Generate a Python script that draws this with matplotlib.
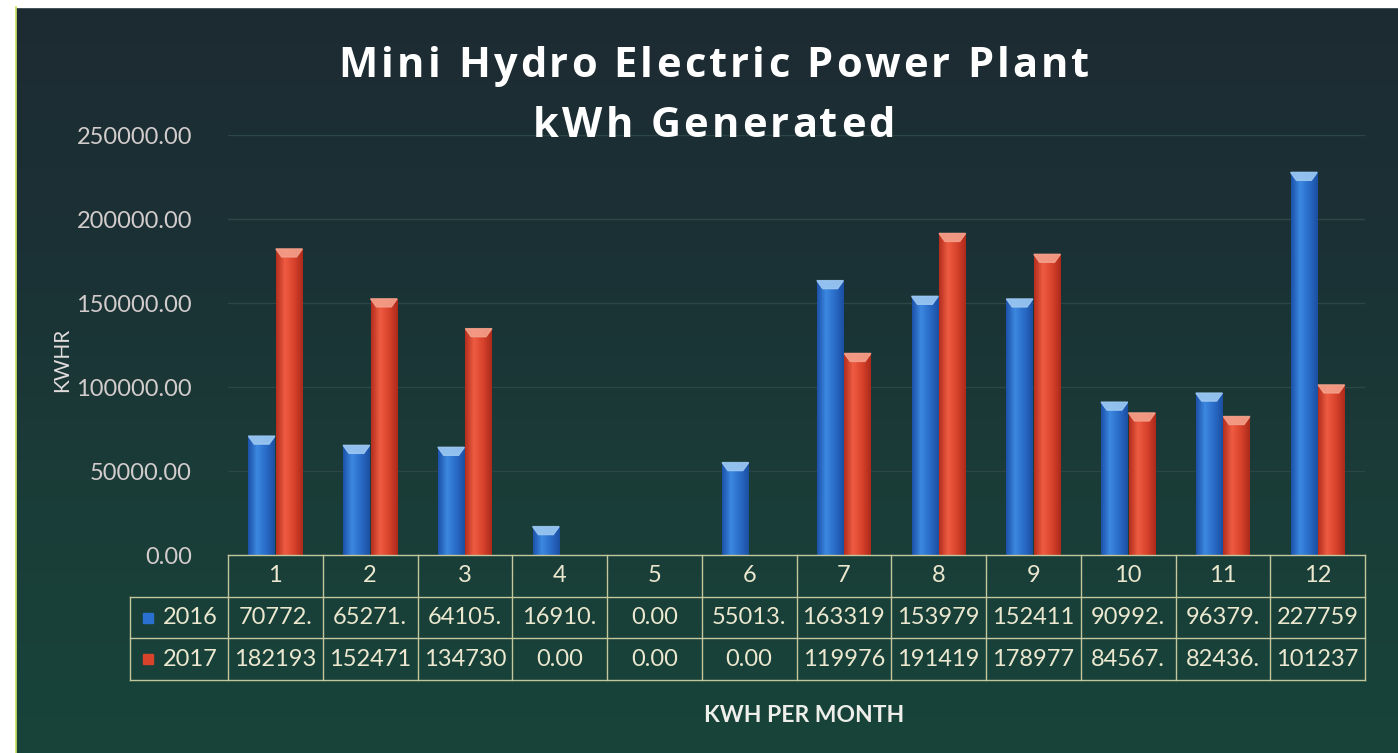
import numpy as np
import matplotlib
matplotlib.use("Agg")
import matplotlib.pyplot as plt
from matplotlib.transforms import blended_transform_factory
from matplotlib.patches import Polygon, Rectangle
from matplotlib.colors import LinearSegmentedColormap
from matplotlib.font_manager import FontProperties

# ---------------- data ----------------
months = ["1", "2", "3", "4", "5", "6", "7", "8", "9", "10", "11", "12"]
series_names = ["2016", "2017"]
kwh_2016 = [70772, 65271, 64105, 16910, 0, 55013, 163319, 153979, 152411, 90992, 96379, 227759]
kwh_2017 = [182193, 152471, 134730, 0, 0, 0, 119976, 191419, 178977, 84567, 82436, 101237]
y_ticks = [0, 50000, 100000, 150000, 200000, 250000]

title_lines = ["Mini Hydro Electric Power Plant", "kWh Generated"]
x_label = "KWH PER MONTH"
y_label = "KWHR"

# ---------------- style ----------------
W, H = 1398, 753
fig = plt.figure(figsize=(W / 100, H / 100), dpi=100)

# background gradient
bg = fig.add_axes([0, 0, 1, 1], zorder=-10)
bg.set_axis_off()
bg_cmap = LinearSegmentedColormap.from_list("bg", ["#1d2b32", "#1b3135", "#1a3d38", "#17443a"])
grad = np.linspace(0, 1, 256).reshape(-1, 1)
bg.imshow(grad, aspect="auto", cmap=bg_cmap, extent=[0, 1, 0, 1], origin="upper")
bg.set_xlim(0, 1)
bg.set_ylim(0, 1)
# scanned white margins
bg.add_patch(Rectangle((0, 0), 15 / W, 1, color="white", zorder=2))
bg.add_patch(Rectangle((0, 1 - 7 / H), 1, 7 / H, color="white", zorder=2))
bg.plot([15.5 / W, 15.5 / W], [0, 1 - 7 / H], color="#c8e05a", lw=1.2, zorder=3)

left, right, bottom, top = 228, 1365, 555, 135
ax = fig.add_axes([left / W, 1 - bottom / H, (right - left) / W, (bottom - top) / H])
ax.set_facecolor("none")
for s in ax.spines.values():
    s.set_visible(False)

n = len(months)
x = np.arange(n)
bw = 0.28
off = 0.145

blue_cmap = LinearSegmentedColormap.from_list("b", ["#1c52aa", "#3c88e0", "#2a6cc8", "#1b4fa2"])
red_cmap = LinearSegmentedColormap.from_list("r", ["#b52e1e", "#ee5c42", "#d8432c", "#ad2a1b"])
cap_cols = ["#9cc8f2", "#f4a08a"]

bars_b = ax.bar(x - off, kwh_2016, bw, color="#2a6cc8", zorder=3)
bars_r = ax.bar(x + off, kwh_2017, bw, color="#d8432c", zorder=3)

hgrad = np.linspace(0, 1, 64).reshape(1, -1)
cap_h = 8 * 250000 / (bottom - top)
for bars, cm, cc in ((bars_b, blue_cmap, cap_cols[0]), (bars_r, red_cmap, cap_cols[1])):
    for r in bars:
        h = r.get_height()
        if h <= 0:
            continue
        x0, w = r.get_x(), r.get_width()
        im = ax.imshow(hgrad, aspect="auto", cmap=cm, extent=[x0, x0 + w, 0, h], zorder=4)
        im.set_clip_path(r)
        ax.add_patch(Polygon([(x0, h), (x0 + w, h), (x0 + w * 0.78, h - cap_h), (x0 + w * 0.22, h - cap_h)],
                             closed=True, color=cc, zorder=5, alpha=0.9))

ax.set_xlim(-0.5, n - 0.5)
ax.set_ylim(0, 250000)

ax.set_yticks(y_ticks)
ax.set_yticklabels([f"{v:.2f}" for v in y_ticks], fontsize=17, color="#d3cccc", family="Lato")
ax.tick_params(axis="y", length=0, pad=26)
ax.set_xticks([])
for v in y_ticks[1:]:
    ax.axhline(v, color="#2c4545", lw=1, zorder=1)

# ---------------- data table ----------------
tr = blended_transform_factory(ax.transData, ax.transAxes)
ph = bottom - top
r0 = 0.0
r1 = -42 / ph
r2 = -83 / ph
r3 = -125 / ph
legend_left = (130 - left) / ((right - left) / n) - 0.5
line_kw = dict(color="#c4c69c", lw=1.0, transform=tr, clip_on=False, zorder=6)

ax.plot([-0.5, n - 0.5], [r0, r0], **line_kw)
for yy in (r1, r2, r3):
    ax.plot([legend_left, n - 0.5], [yy, yy], **line_kw)
for i in range(n + 1):
    ax.plot([i - 0.5, i - 0.5], [r0, r3], **line_kw)
ax.plot([legend_left, legend_left], [r1, r3], **line_kw)

txt_kw = dict(transform=tr, ha="center", va="center", fontsize=17, color="#ebe8cf", family="Lato", clip_on=False)
for i, m in enumerate(months):
    ax.text(i, (r0 + r1) / 2, m, **txt_kw)
for row_y, vals in (((r1 + r2) / 2, kwh_2016), ((r2 + r3) / 2, kwh_2017)):
    for i, v in enumerate(vals):
        ax.text(i, row_y, f"{v:.2f}"[:6], **txt_kw)

mk_x = (148 - left) / ((right - left) / n) - 0.5
lab_x = (190 - left) / ((right - left) / n) - 0.5
for row_y, name, col in (((r1 + r2) / 2, series_names[0], "#2a70d0"), ((r2 + r3) / 2, series_names[1], "#d8432c")):
    ax.plot([mk_x], [row_y], marker="s", ms=6.5, color=col, transform=tr, clip_on=False, zorder=7)
    ax.text(lab_x, row_y, name, **txt_kw)

# ---------------- title with letter spacing ----------------
renderer = fig.canvas.get_renderer()
tprop = FontProperties(family="Open Sans", weight="bold", size=30)
track = 3.2  # px between letters
bar_w = renderer.get_text_width_height_descent("|", tprop, ismath=False)[0]


def adv(s):
    if not s:
        return 0.0
    return renderer.get_text_width_height_descent(s + "|", tprop, ismath=False)[0] - bar_w


for line, base_y, cx in ((title_lines[0], 77, 714), (title_lines[1], 137, 714)):
    offs = [adv(line[:i]) + i * track for i in range(len(line))]
    total = adv(line) + (len(line) - 1) * track
    x_start = cx - total / 2
    for ch, o in zip(line, offs):
        if ch == " ":
            continue
        fig.text((x_start + o) / W, 1 - base_y / H, ch, ha="left", va="baseline",
                 fontproperties=tprop, color="white")

fig.text(62 / W, 1 - 360 / H, y_label, rotation=90, ha="center", va="center", fontsize=15,
         family="Lato", color="#e2dcdc")
fig.text(804 / W, 1 - 716 / H, x_label, ha="center", va="center", fontsize=16.5, fontweight="bold",
         family="Lato", color="#eeeeea")

fig.savefig("out.png", dpi=100)
